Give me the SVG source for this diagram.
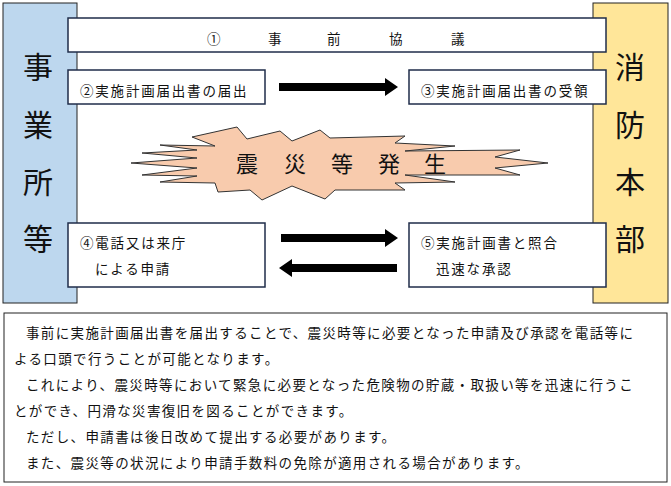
<svg xmlns="http://www.w3.org/2000/svg" width="671" height="486" viewBox="0 0 671 486">
<style>
.b{fill:#fff;stroke:#1f2d4a;stroke-width:1.5}
.t{font-family:"Noto Sans CJK JP","Noto Sans CJK SC",sans-serif;fill:#111}
.s{font-size:13.5px;letter-spacing:1.8px}
.p{font-size:13.5px;letter-spacing:1.37px}
</style>
<rect width="671" height="486" fill="#fff"/>
<g id="jigyosho"><rect x="3" y="3" width="74" height="300" fill="#bdd7ee" stroke="#222" stroke-width="1"/>
<text class="t" font-size="30"><tspan x="23" y="78">事</tspan><tspan x="23" y="136">業</tspan><tspan x="23" y="193">所</tspan><tspan x="23" y="250">等</tspan></text></g>
<g id="shobo"><rect x="593" y="3" width="75" height="300" fill="#ffe699" stroke="#222" stroke-width="1"/>
<text class="t" font-size="30"><tspan x="615" y="78">消</tspan><tspan x="615" y="136">防</tspan><tspan x="615" y="193">本</tspan><tspan x="615" y="250">部</tspan></text></g>
<g id="n1"><rect class="b" x="68" y="18" width="538" height="34"/>
<text class="t" font-size="13.5" y="44"><tspan x="207">①</tspan><tspan x="268">事</tspan><tspan x="327">前</tspan><tspan x="389">協</tspan><tspan x="451">議</tspan></text></g>
<g id="n2"><rect class="b" x="68" y="70" width="197" height="34"/><text class="t s" x="80" y="96">②実施計画届出書の届出</text></g>
<g id="n3"><rect class="b" x="409" y="70" width="197" height="34"/><text class="t s" x="421" y="96">③実施計画届出書の受領</text></g>
<g id="n4"><rect class="b" x="68" y="223" width="197" height="64"/><text class="t s" x="80" y="248">④電話又は来庁</text><text class="t s" x="95" y="274">による申請</text></g>
<g id="n5"><rect class="b" x="409" y="223" width="197" height="64"/><text class="t s" x="421" y="248">⑤実施計画書と照合</text><text class="t s" x="436" y="274">迅速な承認</text></g>
<g id="burst"><path d="M192,137 L237,127 L247,139 L280,131 L292,141 L320,130 L330,138 L405,136 L395,143 L455,146 L405,151 L520,150 L495,157 L548,163 L495,168 L520,175 L405,175 L455,182 L395,183 L405,190 L335,190 L325,199 L292,186 L262,200 L250,190 L218,192 L215,183 L160,182 L197,176 L142,175 L197,168 L131,163 L197,158 L142,153 L197,150 L160,145 L215,146 Z" fill="#f8cbad" stroke="#333" stroke-width="1"/>
<text class="t" font-size="22" y="172"><tspan x="236">震</tspan><tspan x="284">災</tspan><tspan x="331">等</tspan><tspan x="378">発</tspan><tspan x="424">生</tspan></text></g>
<g id="connectors" fill="#000">
<path d="M279,83 H385 V78 L398,87 L385,96 V91 H279 Z"/>
<path d="M281,234 H385 V229 L398,238 L385,247 V242 H281 Z"/>
<path d="M397,264 H292 V259 L279,268 L292,277 V272 H397 Z"/>
</g>
<g id="note"><rect x="4" y="313" width="663" height="169" fill="#fff" stroke="#222" stroke-width="1"/>
<text class="t p"><tspan x="26" y="338">事前に実施計画届出書を届出することで、震災時等に必要となった申請及び承認を電話等に</tspan><tspan x="14" y="364">よる口頭で行うことが可能となります。</tspan><tspan x="26" y="390">これにより、震災時等において緊急に必要となった危険物の貯蔵・取扱い等を迅速に行うこ</tspan><tspan x="14" y="416">とができ、円滑な災害復旧を図ることができます。</tspan><tspan x="26" y="442">ただし、申請書は後日改めて提出する必要があります。</tspan><tspan x="26" y="468">また、震災等の状況により申請手数料の免除が適用される場合があります。</tspan></text></g>
</svg>
